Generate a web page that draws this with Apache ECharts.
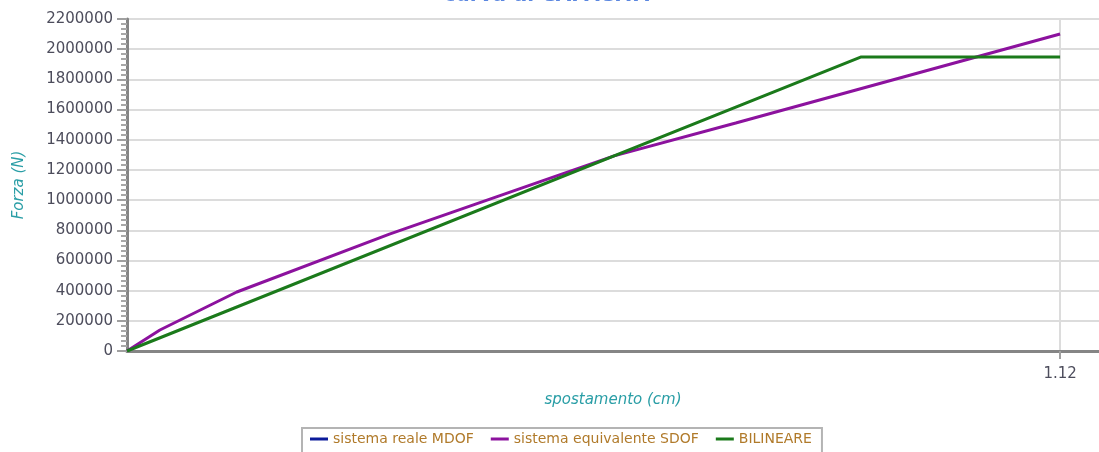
<!DOCTYPE html>
<html>
<head>
<meta charset="utf-8">
<script src="https://cdn.jsdelivr.net/npm/echarts@6/dist/echarts.min.js"></script>
<style>html,body{margin:0;padding:0;background:#fff;}#c{width:1099px;height:452px;}</style>
</head>
<body>
<div id="c"></div>
<script>
// data
var titleText = "curva di CAPACITA'";
var seriesNames = ["sistema reale MDOF", "sistema equivalente SDOF", "BILINEARE"];
var mdofX = [];
var mdofY = [];
var sdofX = [0, 0.0395, 0.1318, 0.315, 0.5847, 0.7307, 1.12];
var sdofY = [0, 139000, 391000, 775000, 1293000, 1511000, 2101000];
var bilX = [0, 0.8806, 1.12];
var bilY = [0, 1948000, 1948000];
var xTicks = [1.12];
var yMin = 0, yMax = 2200000, yStep = 200000;

function pairs(xs, ys) { return xs.map(function (x, i) { return [x, ys[i]]; }); }

var chart = echarts.init(document.getElementById('c'), null, {renderer: 'canvas'});
var labelFont = {fontFamily: 'DejaVu Sans', fontSize: 15, color: '#4d4d5c'};
chart.setOption({
  animation: false,
  title: {
    text: titleText, left: 'center', top: -19,
    textStyle: {fontFamily: 'DejaVu Sans', fontSize: 20, fontWeight: 'bold', color: '#5b87e0'}
  },
  grid: {left: 127, right: -2, top: 19, bottom: 101, containLabel: false},
  legend: {
    data: seriesNames, left: 302, top: 428,
    icon: 'rect', itemWidth: 18, itemHeight: 3, itemGap: 17,
    borderColor: '#b4b4b4', borderWidth: 2, padding: [4, 10, 10, 8],
    textStyle: {fontFamily: 'DejaVu Sans', fontSize: 14, color: '#b07a2a'}
  },
  xAxis: {
    type: 'value', min: 0, max: 1.12 * (1101 - 127) / (1062 - 127), interval: xTicks[0],
    name: 'spostamento (cm)', nameLocation: 'middle', nameGap: 42,
    nameTextStyle: {fontFamily: 'DejaVu Sans', fontStyle: 'italic', fontSize: 15, color: '#2a9ea6'},
    axisLine: {show: true, lineStyle: {color: '#858585', width: 3}},
    axisTick: {show: true, customValues: xTicks, length: 8, lineStyle: {color: '#a0a0a0', width: 2}},
    axisLabel: Object.assign({customValues: xTicks, margin: 16, formatter: function (v) { return v.toFixed(2); }}, labelFont),
    splitLine: {show: true, lineStyle: {color: '#dcdcdc', width: 2}},
    minorTick: {show: false}
  },
  yAxis: {
    type: 'value', min: yMin, max: yMax, interval: yStep,
    name: 'Forza (N)', nameLocation: 'middle', nameGap: 100, nameRotate: 90,
    nameTextStyle: {fontFamily: 'DejaVu Sans', fontStyle: 'italic', fontSize: 15, color: '#2a9ea6'},
    axisLine: {show: true, lineStyle: {color: '#858585', width: 3}},
    axisTick: {show: true, length: 10, lineStyle: {color: '#a0a0a0', width: 2}},
    minorTick: {show: true, splitNumber: 6, length: 6, lineStyle: {color: '#a8a8a8', width: 2}},
    axisLabel: Object.assign({margin: 14, formatter: function (v) { return String(Math.round(v)); }}, labelFont),
    splitLine: {show: true, lineStyle: {color: '#dcdcdc', width: 2}}
  },
  series: [
    {name: seriesNames[0], type: 'line', data: pairs(mdofX, mdofY), showSymbol: false, lineStyle: {width: 3, color: '#0b1a9a'}, itemStyle: {color: '#0b1a9a'}},
    {name: seriesNames[1], type: 'line', data: pairs(sdofX, sdofY), showSymbol: false, lineStyle: {width: 3, color: '#8c129e'}, itemStyle: {color: '#8c129e'}},
    {name: seriesNames[2], type: 'line', data: pairs(bilX, bilY), showSymbol: false, lineStyle: {width: 3, color: '#1b7a1b'}, itemStyle: {color: '#1b7a1b'}, z: 3}
  ]
});
</script>
</body>
</html>
